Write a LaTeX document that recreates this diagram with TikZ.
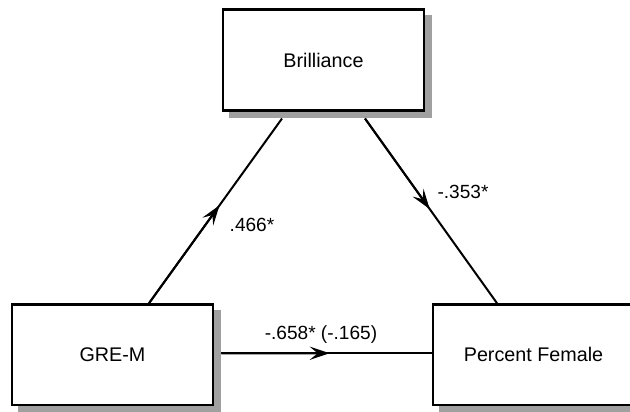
\documentclass[tikz,border=0pt]{standalone}
\usepackage{fontspec}
\setmainfont{Liberation Sans}
\usetikzlibrary{arrows.meta,calc}
\definecolor{shadowgray}{RGB}{160,160,160}
\begin{document}
\begin{tikzpicture}[x=0.75pt,y=0.75pt,
  varbox/.style={draw=black, line width=1.9pt, fill=white, rectangle,
    minimum width=150.75pt, minimum height=75.4pt, inner sep=0pt,
    font=\fontsize{14.8pt}{17pt}\selectfont},
  boxshadow/.style={fill=shadowgray, draw=none},
  conn/.style={line width=1.5pt},
  headarrow/.style={line width=1.5pt, -{Stealth[length=15pt,width=10pt,inset=6pt]}},
  lbl/.style={inner sep=0pt, font=\fontsize{14.3pt}{17pt}\selectfont}]
\useasboundingbox (0,0) rectangle (630,411);
\path[boxshadow] (228.7,292.5) rectangle (432.3,395.5);
\path[boxshadow] (17.7,-2.3) rectangle (221.3,100.8);
\path[boxshadow] (438.7,-2.3) rectangle (642.3,100.8);
\node[varbox] (bril) at (323.5,351) {Brilliance};
\node[varbox] (gre) at (112.5,56.25) {GRE-M};
\node[varbox] (pf) at (533.5,56.25) {Percent Female};
\coordinate (bl) at ($(bril.south)+(-41.5,-7)$);
\coordinate (br) at ($(bril.south)+(41.5,-7)$);
\coordinate (gn) at ($(gre.north)+(36.5,0)$);
\coordinate (pn) at ($(pf.north)+(-36.5,0)$);
\coordinate (ge) at ($(gre.east)+(7,1.5)$);
\coordinate (pw) at (ge -| pf.west);
\draw[conn] (gn) -- (bl);
\draw[headarrow] (gn) -- ($(gn)!0.53!(bl)$);
\draw[conn] (br) -- (pn);
\draw[headarrow] (br) -- ($(br)!0.49!(pn)$);
\draw[conn] (ge) -- (pw);
\draw[headarrow] (ge) -- ($(ge)!0.515!(pw)$);
\node[lbl] (l1) at (252,186) {.466*};
\node[lbl] (l2) at (463,219) {-.353*};
\node[lbl] (l3) at (321,76) {-.658* (-.165)};
\end{tikzpicture}
\end{document}
